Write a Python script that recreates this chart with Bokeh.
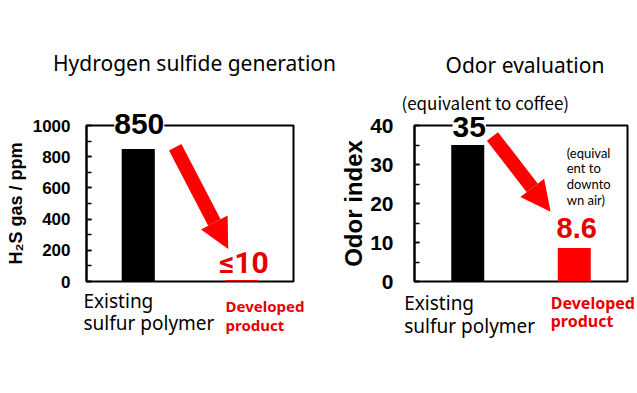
from bokeh.plotting import figure
from bokeh.models import (Range1d, FactorRange, SingleIntervalTicker, Label, Arrow, NormalHead)
from bokeh.layouts import row
from bokeh.embed import file_html
from bokeh.resources import INLINE

# ---- data ----
titles = ["Hydrogen sulfide generation", "Odor evaluation"]
categories = ["Existing sulfur polymer", "Developed product"]
cat_lines = [["Existing", "sulfur polymer"], ["Developed", "product"]]
h2s_values = [850, 10]
h2s_texts = ["850", "\u226410"]
odor_values = [35, 8.6]
odor_texts = ["35", "8.6"]
h2s_ylabel = "H\u2082S gas / ppm"
odor_ylabel = "Odor index"
coffee_note = "(equivalent to coffee)"
air_note_lines = ["(equival", "ent to", "downto", "wn air)"]

bar_colors = ["black", "#ff0000"]
label_colors = ["black", "#e60000"]
RED = "#ff0000"
NUM_FONT = "Liberation Sans"
TXT_FONT = "Noto Sans"


def base_fig(width, yr, borders):
    p = figure(width=width, height=393, x_range=FactorRange(factors=categories), y_range=yr,
               toolbar_location=None, output_backend="svg",
               min_border_left=borders[0], min_border_right=borders[1],
               min_border_top=borders[2], min_border_bottom=borders[3])
    p.xaxis.visible = False
    p.grid.visible = False
    p.outline_line_color = "black"
    p.outline_line_width = 2
    p.yaxis.axis_line_width = 2
    p.yaxis.major_tick_in = 5
    p.yaxis.major_tick_out = 0
    p.yaxis.minor_tick_in = 5
    p.yaxis.minor_tick_out = 0
    p.yaxis.major_tick_line_width = 1.5
    p.yaxis.minor_tick_line_width = 1.5
    p.yaxis.major_label_text_font = NUM_FONT
    p.yaxis.major_label_text_font_style = "bold"
    p.yaxis.axis_label_text_font = NUM_FONT
    p.yaxis.axis_label_text_font_style = "bold"
    p.yaxis.axis_label_text_color = "black"
    p.yaxis.major_label_text_color = "black"
    return p


def add_cat_labels(p, specs):
    for (i, xo, yo, size, style) in specs:
        for ln, dy in zip(cat_lines[i], yo):
            p.add_layout(Label(x=i + 0.5, y=0, text=ln, x_offset=xo, y_offset=dy, text_align="left",
                               text_baseline="alphabetic", text_font=TXT_FONT, text_font_size=size,
                               text_font_style=style, text_color=label_colors[i]), "below")


# ---- left: H2S ----
p1 = base_fig(337, Range1d(0, 1000), (86, 44, 125, 111))
p1.yaxis.ticker = SingleIntervalTicker(interval=200, num_minor_ticks=2)
p1.yaxis.axis_label = h2s_ylabel
p1.yaxis.axis_label_text_font_size = "18px"
p1.yaxis.major_label_text_font_size = "17px"
p1.yaxis.major_label_standoff = 16
p1.yaxis.axis_label_standoff = 4
p1.vbar(x=categories, top=h2s_values, width=0.32, color=bar_colors, line_color=None)

p1.add_layout(Arrow(end=NormalHead(size=30, fill_color=RED, line_color=RED, line_width=0),
                    x_start=0.857, y_start=860, x_end=1.369, y_end=208,
                    line_color=RED, line_width=14))

p1.add_layout(Label(x=1, y=1000, text=titles[0], x_offset=4.5, y_offset=62.8,
                    text_align="center", text_baseline="alphabetic", text_font=TXT_FONT,
                    text_font_size="21px", text_color="black"), "above")
p1.add_layout(Label(x=0.5, y=h2s_values[0], text=h2s_texts[0], x_offset=1, y_offset=25,
                    text_align="center", text_baseline="alphabetic", text_font=NUM_FONT,
                    text_font_style="bold", text_font_size="30px", text_color="black",
                    background_fill_color="white", level="overlay"), "above")
p1.add_layout(Label(x=1.5, y=h2s_values[1], text=h2s_texts[1], x_offset=2, y_offset=17.5,
                    text_align="center", text_baseline="alphabetic", text_font="Roboto",
                    text_font_style="bold", text_font_size="30px", text_color=label_colors[1]))
add_cat_labels(p1, [(0, -54.75, [-19, -41.5], "19px", "normal"),
                    (1, -16.25, [-24, -43], "15px", "bold")])

# ---- right: Odor ----
p2 = base_fig(300, Range1d(0, 40), (72, 10, 122, 112))
p2.yaxis.ticker = SingleIntervalTicker(interval=10, num_minor_ticks=2)
p2.yaxis.axis_label = odor_ylabel
p2.yaxis.axis_label_text_font_size = "24px"
p2.yaxis.major_label_text_font_size = "21px"
p2.yaxis.major_label_standoff = 21
p2.yaxis.axis_label_standoff = 0
p2.vbar(x=categories, top=odor_values, width=0.31, color=bar_colors, line_color=None)

p2.add_layout(Arrow(end=NormalHead(size=30, fill_color=RED, line_color=RED, line_width=0),
                    x_start=0.732, y_start=37.2, x_end=1.278, y_end=17.9,
                    line_color=RED, line_width=14))

p2.add_layout(Label(x=1, y=40, text=titles[1], x_offset=4, y_offset=60.8,
                    text_align="center", text_baseline="alphabetic", text_font=TXT_FONT,
                    text_font_size="21px", text_color="black"), "above")
p2.add_layout(Label(x=0.5, y=40, text=coffee_note, x_offset=17.5, y_offset=23.5,
                    text_align="center", text_baseline="alphabetic", text_font="Noto Sans CJK JP",
                    text_font_size="17px", text_color="black"), "above")
p2.add_layout(Label(x=0.5, y=odor_values[0], text=odor_texts[0], x_offset=1.5, y_offset=18.5,
                    text_align="center", text_baseline="alphabetic", text_font=NUM_FONT,
                    text_font_style="bold", text_font_size="30px", text_color="black",
                    background_fill_color="white", level="overlay"), "above")
p2.add_layout(Label(x=1.5, y=odor_values[1], text=odor_texts[1], x_offset=2.5, y_offset=20,
                    text_align="center", text_baseline="alphabetic", text_font=NUM_FONT,
                    text_font_style="bold", text_font_size="29px", text_color=label_colors[1]))
for ln, dy in zip(air_note_lines, [-27, -42, -58, -74]):
    p2.add_layout(Label(x=1.5, y=40, text=ln, x_offset=-7.5, y_offset=dy, text_align="left",
                        text_baseline="alphabetic", text_font="Lato", text_font_size="13px",
                        text_color="black"))
add_cat_labels(p2, [(0, -63.5, [-21.5, -44.5], "19px", "normal"),
                    (1, -23.5, [-21, -39], "16px", "bold")])

layout = row(p1, p2, spacing=0)
open("out.html", "w").write(file_html(layout, INLINE))
